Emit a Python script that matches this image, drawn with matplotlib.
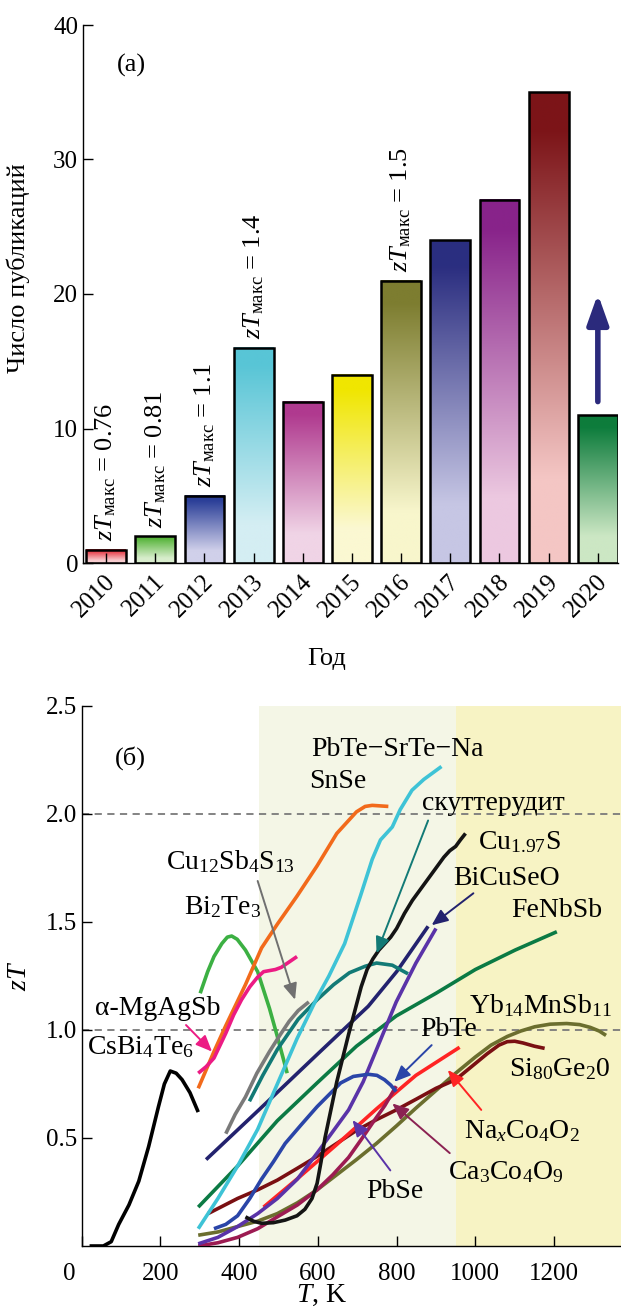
import numpy as np
import matplotlib
matplotlib.use("Agg")
import matplotlib.pyplot as plt
from matplotlib.colors import to_rgb
from matplotlib.transforms import ScaledTranslation

plt.rcParams['font.family'] = ['Liberation Serif', 'DejaVu Serif']
plt.rcParams['mathtext.fontset'] = 'custom'
plt.rcParams['mathtext.rm'] = 'Liberation Serif'
plt.rcParams['mathtext.it'] = 'Liberation Serif:italic'
plt.rcParams['mathtext.bf'] = 'Liberation Serif:bold'

# ---------------- panel (а): publications per year ----------------
years = ['2010', '2011', '2012', '2013', '2014', '2015',
         '2016', '2017', '2018', '2019', '2020']
publications = [1, 2, 5, 16, 12, 14, 21, 24, 27, 35, 11]
top_colors = ['#e42a36', '#56b43a', '#2b3f98', '#58c5d6', '#b03a8f', '#f0e600',
              '#7d7d30', '#2b2e80', '#88238a', '#7c1418', '#0d7c3c']
bottom_colors = ['#f8cdd0', '#d8edcc', '#d0d0ea', '#d4eef3', '#f0d4e6', '#fbf8d2',
                 '#f8f6cc', '#c6c6e4', '#ecc8e0', '#f4c6c4', '#cce7c4']
zt_years = ['2010', '2011', '2012', '2013', '2016']
zt_values = ['0.76', '0.81', '1.1', '1.4', '1.5']
growth_arrow = (12, 20)   # publications axis, for the 2020 bar

# ---------------- panel (б): zT(T) curves ----------------
CsBi4Te6_T = [20, 40, 55, 75, 94, 120, 145, 170, 195, 210, 225, 240, 255, 275, 296]
CsBi4Te6_zT = [0.0, 0.0, 0.0, 0.02, 0.10, 0.19, 0.30, 0.46, 0.645, 0.75, 0.81, 0.80, 0.77, 0.71, 0.62]

Bi2Te3_T = [301, 320, 336, 356, 370, 381, 395, 416, 447, 477, 497, 522]
Bi2Te3_zT = [1.17, 1.27, 1.34, 1.40, 1.43, 1.435, 1.42, 1.37, 1.27, 1.10, 0.97, 0.80]

SnSe_T = [296, 336, 366, 416, 457, 497, 547, 598, 648, 698, 720, 738, 779]
SnSe_zT = [0.73, 0.90, 1.02, 1.21, 1.38, 1.49, 1.62, 1.76, 1.91, 2.01, 2.035, 2.04, 2.035]

PbTeSrTe_T = [296, 346, 396, 447, 497, 547, 598, 628, 668, 708, 738, 759, 789, 809, 839, 869, 914]
PbTeSrTe_zT = [0.08, 0.22, 0.37, 0.54, 0.75, 0.96, 1.15, 1.25, 1.40, 1.62, 1.79, 1.88, 1.94,
               2.02, 2.11, 2.16, 2.22]

skutt_T = [426, 460, 497, 550, 598, 640, 680, 720, 749, 789, 829]
skutt_zT = [0.67, 0.79, 0.91, 1.05, 1.14, 1.21, 1.265, 1.295, 1.31, 1.30, 1.26]

CuSbS_T = [366, 390, 416, 445, 477, 505, 527, 550, 577]
CuSbS_zT = [0.52, 0.61, 0.69, 0.80, 0.90, 0.98, 1.04, 1.09, 1.13]

MgAgSb_T = [296, 316, 336, 366, 386, 406, 427, 447, 462, 477, 492, 507, 527, 547]
MgAgSb_zT = [0.80, 0.83, 0.87, 0.985, 1.07, 1.14, 1.20, 1.245, 1.27, 1.275, 1.28, 1.29, 1.315, 1.34]

BiCuSeO_T = [316, 450, 600, 728, 800, 880]
BiCuSeO_zT = [0.40, 0.63, 0.89, 1.11, 1.27, 1.48]

PbSe_T = [296, 346, 396, 447, 497, 548, 598, 638, 678, 715, 749, 799, 849, 900]
PbSe_zT = [0.01, 0.04, 0.09, 0.15, 0.22, 0.31, 0.43, 0.53, 0.63, 0.76, 0.91, 1.13, 1.31, 1.47]

PbTe_T = [336, 366, 396, 427, 457, 487, 517, 557, 598, 628, 658, 690, 728, 750, 769, 785, 799]
PbTe_zT = [0.08, 0.10, 0.14, 0.22, 0.31, 0.39, 0.475, 0.56, 0.645, 0.70, 0.755, 0.785, 0.795,
           0.79, 0.77, 0.745, 0.715]

CaCoO_T = [296, 346, 396, 447, 497, 548, 598, 638, 678, 709, 739, 770, 799]
CaCoO_zT = [0.0, 0.015, 0.04, 0.08, 0.135, 0.19, 0.26, 0.33, 0.41, 0.49, 0.57, 0.65, 0.74]

Cu2S_T = [416, 436, 457, 487, 517, 547, 567, 585, 598, 608, 618, 633, 648, 663, 678, 694, 710,
          725, 740, 755, 770, 785, 800, 820, 840, 860, 880, 900, 920, 935, 950, 962, 975]
Cu2S_zT = [0.135, 0.115, 0.105, 0.108, 0.12, 0.14, 0.17, 0.22, 0.29, 0.39, 0.50, 0.63, 0.76,
           0.87, 0.98, 1.09, 1.20, 1.28, 1.33, 1.37, 1.40, 1.43, 1.47, 1.54, 1.60, 1.65, 1.70,
           1.75, 1.80, 1.83, 1.85, 1.88, 1.91]

FeNbSb_T = [296, 396, 497, 598, 698, 799, 900, 1000, 1101, 1207]
FeNbSb_zT = [0.18, 0.37, 0.58, 0.755, 0.925, 1.065, 1.17, 1.28, 1.37, 1.455]

YbMnSb_T = [296, 346, 396, 447, 497, 548, 598, 648, 698, 749, 799, 850, 900, 950, 1000,
            1040, 1081, 1115, 1151, 1190, 1232, 1265, 1292, 1315, 1332]
YbMnSb_zT = [0.05, 0.065, 0.09, 0.115, 0.15, 0.20, 0.26, 0.33, 0.40, 0.475, 0.555, 0.64,
             0.72, 0.80, 0.875, 0.93, 0.97, 0.995, 1.015, 1.027, 1.03, 1.025, 1.012, 0.995, 0.975]

SiGe_T = [321, 396, 447, 497, 548, 598, 648, 698, 749, 799, 850, 900, 950, 1000, 1030,
          1060, 1081, 1100, 1121, 1150, 1176]
SiGe_zT = [0.15, 0.22, 0.26, 0.305, 0.36, 0.415, 0.475, 0.535, 0.585, 0.63, 0.68, 0.73, 0.77,
           0.845, 0.89, 0.93, 0.946, 0.948, 0.94, 0.925, 0.915]

NaCoO_T = [462, 547, 648, 749, 849, 960]
NaCoO_zT = [0.18, 0.31, 0.47, 0.635, 0.79, 0.92]

curves = [
    (CsBi4Te6_T, CsBi4Te6_zT, '#000000'),
    (Bi2Te3_T, Bi2Te3_zT, '#3cb043'),
    (SnSe_T, SnSe_zT, '#f26a1b'),
    (FeNbSb_T, FeNbSb_zT, '#0b7a44'),
    (YbMnSb_T, YbMnSb_zT, '#6b6e2e'),
    (SiGe_T, SiGe_zT, '#7a0f12'),
    (NaCoO_T, NaCoO_zT, '#ff2424'),
    (CaCoO_T, CaCoO_zT, '#9c1b52'),
    (PbSe_T, PbSe_zT, '#5a33a8'),
    (PbTe_T, PbTe_zT, '#2a45a8'),
    (BiCuSeO_T, BiCuSeO_zT, '#23226e'),
    (skutt_T, skutt_zT, '#127a76'),
    (PbTeSrTe_T, PbTeSrTe_zT, '#3ec3d6'),
    (CuSbS_T, CuSbS_zT, '#7a7a7a'),
    (MgAgSb_T, MgAgSb_zT, '#ec1b84'),
    (Cu2S_T, Cu2S_zT, '#141414'),
]

# text labels: (text, T, zT, ha)
curve_labels = [
    ('CsBi$_4$Te$_6$', 14, 0.92, 'left'),
    ('Bi$_2$Te$_3$', 261, 1.57, 'left'),
    ('Cu$_{12}$Sb$_4$S$_{13}$', 215, 1.78, 'left'),
    ('α-MgAgSb', 34, 1.10, 'left'),
    ('PbTe−SrTe−Na', 583, 2.30, 'left'),
    ('SnSe', 578, 2.15, 'left'),
    ('скуттерудит', 864, 2.05, 'left'),
    ('Cu$_{1.97}$S', 1006, 1.87, 'left'),
    ('BiCuSeO', 945, 1.70, 'left'),
    ('FeNbSb', 1091, 1.555, 'left'),
    ('Yb$_{14}$MnSb$_{11}$', 985, 1.115, 'left'),
    ('PbTe', 859, 1.00, 'left'),
    ('Si$_{80}$Ge$_2$0', 1086, 0.82, 'left'),
    ('Na$_x$Co$_4$O$_2$', 970, 0.53, 'left'),
    ('Ca$_3$Co$_4$O$_9$', 930, 0.34, 'left'),
    ('PbSe', 723, 0.25, 'left'),
]

# pointer arrows: (tail T, tail zT, head T, head zT, colour)
pointers = [
    (447, 1.69, 542, 1.14, '#707070'),
    (265, 1.023, 331, 0.90, '#ec1b84'),
    (880, 1.97, 749, 1.355, '#127a76'),
    (995, 1.633, 889, 1.485, '#23226e'),
    (889, 0.93, 794, 0.76, '#2a45a8'),
    (1015, 0.63, 930, 0.815, '#ff2424'),
    (935, 0.43, 789, 0.66, '#8b2252'),
    (784, 0.35, 688, 0.583, '#5a33a8'),
]

# ---------------- figure ----------------
W, H = 621, 1307
fig = plt.figure(figsize=(W / 100, H / 100), dpi=100)

# ---- panel (а)
axa = fig.add_axes([83 / W, 1 - 563 / H, (618 - 83) / W, (563 - 25) / H])
x = np.arange(len(years))
bw = 0.81


def gradient(top, bottom, n=256):
    f = np.linspace(0, 1, n)
    g = np.clip((f - 0.18) / 0.74, 0, 1)
    t, b = np.array(to_rgb(top)), np.array(to_rgb(bottom))
    return (b[None, :] + (t - b)[None, :] * g[:, None])[:, None, :]


for xi, h, ct, cb in zip(x, publications, top_colors, bottom_colors):
    axa.imshow(gradient(ct, cb), extent=(xi - bw / 2, xi + bw / 2, 0, h),
               origin='lower', aspect='auto', interpolation='bilinear', zorder=1)
axa.bar(x, publications, width=bw, fill=False, edgecolor='black', linewidth=1.8, zorder=2)

for yr, val in zip(zt_years, zt_values):
    i = years.index(yr)
    axa.annotate(r'$zT_{\mathrm{макс}}$ = ' + val, xy=(i, publications[i]),
                 xytext=(0, 6), textcoords='offset points', rotation=90,
                 ha='center', va='bottom', fontsize=19)

axa.annotate('', xy=(10, growth_arrow[1]), xytext=(10, growth_arrow[0]),
             arrowprops=dict(arrowstyle='-|>,head_length=0.9,head_width=0.32',
                             color='#2b2a7c', lw=4, mutation_scale=20,
                             shrinkA=0, shrinkB=0))

axa.text(0.51, 37.0, '(а)', fontsize=19, ha='center', va='center')
axa.set_xlim(-0.47, 10.41)
axa.set_ylim(0, 40)
axa.set_yticks([0, 10, 20, 30, 40])
axa.set_xticks(x)
axa.set_xticklabels(years, rotation=45, ha='right', va='center', rotation_mode='anchor')
axa.tick_params(direction='in', length=7, width=1.0, labelsize=18)
axa.tick_params(axis='x', labelsize=18, pad=11)
shift = ScaledTranslation(6 / 100, 0, fig.dpi_scale_trans)
for lab in axa.get_xticklabels():
    lab.set_transform(lab.get_transform() + shift)
for s in ['top', 'right']:
    axa.spines[s].set_visible(False)
for s in ['left', 'bottom']:
    axa.spines[s].set_linewidth(1.0)
axa.set_ylabel('Число публикаций', fontsize=19)
axa.yaxis.set_label_coords(-0.099, 0.548)
axa.set_xlabel('Год', fontsize=19)
axa.xaxis.set_label_coords(0.456, -0.158)

# ---- panel (б)
axb = fig.add_axes([81.7 / W, 1 - 1246 / H, (W - 81.7) / W, (1246 - 706) / H])
axb.axvspan(450, 950, color='#f4f6e6', zorder=0, lw=0)
axb.axvspan(950, 1370, color='#f7f3c4', zorder=0, lw=0)
for lvl in (1.0, 2.0):
    axb.axhline(lvl, color='#7a7a7a', lw=1.3, ls=(0, (4, 3)), zorder=1)

for T, z, c in curves:
    axb.plot(T, z, color=c, lw=2.6, solid_capstyle='butt', solid_joinstyle='round', zorder=3)

for tT, tz, hT, hz, c in pointers:
    axb.annotate('', xy=(hT, hz), xytext=(tT, tz),
                 arrowprops=dict(arrowstyle='-|>,head_length=0.7,head_width=0.3',
                                 color=c, lw=1.4, mutation_scale=14,
                                 shrinkA=0, shrinkB=0), zorder=4)

for txt, T, z, ha in curve_labels:
    axb.text(T, z, txt, fontsize=20, ha=ha, va='center', zorder=5)

axb.text(124, 2.26, '(б)', fontsize=19, ha='center', va='center')
axb.set_xlim(0, 1370)
axb.set_ylim(0, 2.5)
axb.set_xticks([0, 200, 400, 600, 800, 1000, 1200])
axb.set_yticks([0.5, 1.0, 1.5, 2.0, 2.5])
axb.set_yticklabels(['0.5', '1.0', '1.5', '2.0', '2.5'])
axb.tick_params(direction='in', length=7, width=1.0, labelsize=18)
axb.tick_params(axis='x', pad=12)
lab0 = axb.get_xticklabels()[0]
lab0.set_transform(lab0.get_transform() + ScaledTranslation(-12 / 100, 0, fig.dpi_scale_trans))
for s in ['top', 'right']:
    axb.spines[s].set_visible(False)
for s in ['left', 'bottom']:
    axb.spines[s].set_linewidth(1.0)
axb.set_ylabel('$zT$', fontsize=20)
axb.yaxis.set_label_coords(-0.092, 0.5)
axb.set_xlabel('$T$, K', fontsize=20)
axb.xaxis.set_label_coords(0.444, -0.068)

fig.savefig('out.png', dpi=100)
